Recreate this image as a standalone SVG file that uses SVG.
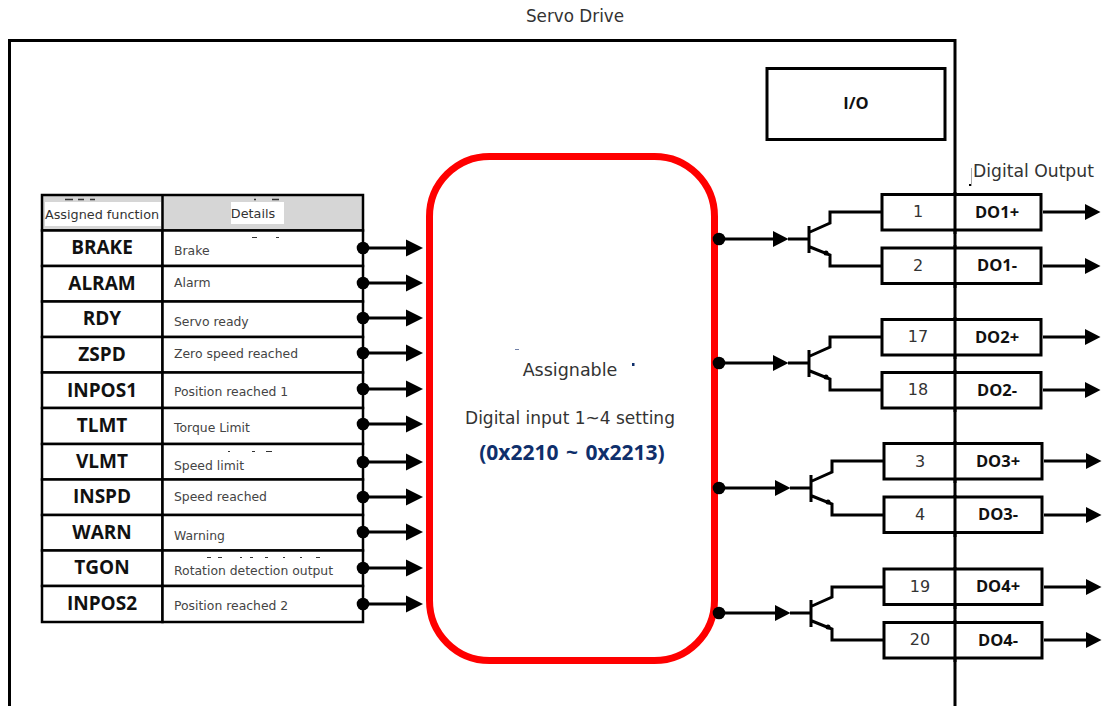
<svg xmlns="http://www.w3.org/2000/svg" width="1102" height="706" viewBox="0 0 1102 706">
<style>
text{font-family:"Open Sans","Noto Sans","Liberation Sans",sans-serif;fill:#222}
.b{font-weight:700;fill:#111;text-anchor:middle}
.f{font-size:19px}
.p{font-size:16.500px}
.d{font-family:"DejaVu Sans","Liberation Sans",sans-serif;font-size:12.400px;fill:#444}
.h{font-family:"DejaVu Sans","Liberation Sans",sans-serif;font-size:12.800px;fill:#333;text-anchor:middle}
.m{font-family:"DejaVu Sans","Liberation Sans",sans-serif;font-size:16.800px;text-anchor:middle;fill:#333}
.n{font-family:"DejaVu Sans","Liberation Sans",sans-serif;font-size:16px;text-anchor:middle;fill:#333}
.box{fill:#fff;stroke:#000;stroke-width:3}
.cell{fill:#fff;stroke:#000;stroke-width:2.500}
.w{fill:none;stroke:#000;stroke-width:3}
.t{fill:none;stroke:#000;stroke-width:3}
</style>
<defs>
<marker id="a" markerUnits="userSpaceOnUse" markerWidth="18" markerHeight="18" refX="0" refY="9" orient="auto"><path d="M0 0.500L17 9L0 17.500Z" fill="#000"/></marker>
<marker id="s" markerUnits="userSpaceOnUse" markerWidth="16" markerHeight="18" refX="0" refY="9" orient="auto"><path d="M0 1L15.500 9L0 17Z" fill="#000"/></marker>
<circle id="o" r="6.300" fill="#000"/>
</defs>
<rect width="1102" height="706" fill="#fff"/>
<g id="frame"><path d="M9.500 706V40.500H955V706" fill="none" stroke="#000" stroke-width="3"/>
<text x="575" y="22" class="m">Servo Drive</text></g>
<g id="io"><rect x="767" y="68.500" width="178" height="71" class="box"/><text x="856" y="109" class="b p">I/O</text></g>
<g id="table">
<rect x="42" y="195" width="321" height="35.500" fill="#d6d6d6" stroke="#000" stroke-width="2.500"/>
<path d="M162.500 195V230" stroke="#000" stroke-width="2.500"/>
<rect x="45" y="202" width="116" height="24" fill="#fff"/><rect x="231" y="202" width="53" height="22" fill="#fff"/>
<path d="M65 199.500h8M78 199.500h6M90 199.500h5M254 199.500h2M272 199.500h7" stroke="#333" stroke-width="1.500"/>
<text x="102" y="219" class="h">Assigned function</text>
<text x="253" y="218" class="h">Details</text>
</g>
<g id="r1"><rect x="42" y="230.500" width="120.500" height="35.500" class="cell"/><rect x="162.500" y="230.500" width="200.500" height="35.500" class="cell"/><text x="102" y="254" class="b f">BRAKE</text><text x="174" y="255" class="d">Brake</text><path d="M252 237.500h5M276 237.500h3" stroke="#333" stroke-width="1.200"/></g>
<g id="r2"><rect x="42" y="266" width="120.500" height="35.500" class="cell"/><rect x="162.500" y="266" width="200.500" height="35.500" class="cell"/><text x="102" y="290" class="b f">ALRAM</text><text x="174" y="287" class="d">Alarm</text></g>
<g id="r3"><rect x="42" y="301.500" width="120.500" height="35.500" class="cell"/><rect x="162.500" y="301.500" width="200.500" height="35.500" class="cell"/><text x="102" y="325" class="b f">RDY</text><text x="174" y="326" class="d">Servo ready</text></g>
<g id="r4"><rect x="42" y="337" width="120.500" height="35.500" class="cell"/><rect x="162.500" y="337" width="200.500" height="35.500" class="cell"/><text x="102" y="361" class="b f">ZSPD</text><text x="174" y="358" class="d">Zero speed reached</text></g>
<g id="r5"><rect x="42" y="372.500" width="120.500" height="35.500" class="cell"/><rect x="162.500" y="372.500" width="200.500" height="35.500" class="cell"/><text x="102" y="397" class="b f">INPOS1</text><text x="174" y="396" class="d">Position reached 1</text></g>
<g id="r6"><rect x="42" y="408" width="120.500" height="36" class="cell"/><rect x="162.500" y="408" width="200.500" height="36" class="cell"/><text x="102" y="432" class="b f">TLMT</text><text x="174" y="432" class="d">Torque Limit</text></g>
<g id="r7"><rect x="42" y="444" width="120.500" height="35.500" class="cell"/><rect x="162.500" y="444" width="200.500" height="35.500" class="cell"/><text x="102" y="468" class="b f">VLMT</text><text x="174" y="470" class="d">Speed limit</text><path d="M228 451.500h2M252 451.500h3M266 451.500h6" stroke="#333" stroke-width="1"/></g>
<g id="r8"><rect x="42" y="479.500" width="120.500" height="35.500" class="cell"/><rect x="162.500" y="479.500" width="200.500" height="35.500" class="cell"/><text x="102" y="503" class="b f">INSPD</text><text x="174" y="501" class="d">Speed reached</text></g>
<g id="r9"><rect x="42" y="515" width="120.500" height="35.500" class="cell"/><rect x="162.500" y="515" width="200.500" height="35.500" class="cell"/><text x="102" y="539" class="b f">WARN</text><text x="174" y="540" class="d">Warning</text></g>
<g id="r10"><rect x="42" y="550.500" width="120.500" height="35.500" class="cell"/><rect x="162.500" y="550.500" width="200.500" height="35.500" class="cell"/><text x="102" y="574" class="b f">TGON</text><text x="174" y="575" class="d">Rotation detection output</text><path d="M207 557.500h4M218 557.500h4M240 557.500h2M250 557.500h3M265 557.500h3M283 557.500h2M300 557.500h2M316 557.500h4" stroke="#333" stroke-width="1"/></g>
<g id="r11"><rect x="42" y="586" width="120.500" height="36" class="cell"/><rect x="162.500" y="586" width="200.500" height="36" class="cell"/><text x="102" y="610" class="b f">INPOS2</text><text x="174" y="610" class="d">Position reached 2</text></g>
<g id="core">
<rect x="429.500" y="156.500" width="285" height="504" rx="60" fill="#fff" stroke="#f00" stroke-width="7"/>
<text x="570" y="376" class="m" style="font-size:17.500px">Assignable</text>
<text x="570" y="424" class="m" style="font-size:17px">Digital input 1~4 setting</text>
<text x="572" y="460" style="font-size:21px;fill:#0f2f6b;font-weight:700;text-anchor:middle;word-spacing:2px">(0x2210 ~ 0x2213)</text>
<path d="M515 349.500h4" stroke="#7080a8"/><rect x="632" y="363" width="2.500" height="3" fill="#0f2f6b"/>
</g>
<g id="output-label"><text x="973" y="177" class="m" style="text-anchor:start;font-size:17.200px">Digital Output</text><path d="M971.500 168v18" stroke="#aaa"/><rect x="969" y="184" width="2" height="2" fill="#000"/></g>
<g id="do1p"><rect x="882" y="194.500" width="159" height="35.500" class="box"/><text x="918" y="217" class="n">1</text><text x="997" y="218" class="b p">DO1+</text></g>
<g id="do1m"><rect x="882" y="248" width="159" height="35.500" class="box"/><text x="918" y="271" class="n">2</text><text x="997" y="271" class="b p">DO1-</text></g>
<g id="do2p"><rect x="882" y="319.500" width="159" height="35.500" class="box"/><text x="918" y="342" class="n">17</text><text x="997" y="343" class="b p">DO2+</text></g>
<g id="do2m"><rect x="882" y="372.500" width="159" height="35.500" class="box"/><text x="918" y="395" class="n">18</text><text x="997" y="396" class="b p">DO2-</text></g>
<g id="do3p"><rect x="884" y="443.500" width="158" height="35.500" class="box"/><text x="920" y="467" class="n">3</text><text x="998" y="467" class="b p">DO3+</text></g>
<g id="do3m"><rect x="884" y="497" width="158" height="35.500" class="box"/><text x="920" y="520" class="n">4</text><text x="998" y="520" class="b p">DO3-</text></g>
<g id="do4p"><rect x="884" y="569" width="158" height="35.500" class="box"/><text x="920" y="592" class="n">19</text><text x="998" y="592" class="b p">DO4+</text></g>
<g id="do4m"><rect x="884" y="622.500" width="158" height="35.500" class="box"/><text x="920" y="645" class="n">20</text><text x="998" y="646" class="b p">DO4-</text></g>
<path d="M955 192V234M955 245V288M955 317V359M955 370V412M955 441V483M955 495V537M955 567V609M955 620V662" stroke="#000" stroke-width="3" fill="none"/>
<g id="connectors">
<g class="w">
<path d="M363 248H406" marker-end="url(#a)"/><path d="M363 283H406" marker-end="url(#a)"/><path d="M363 318H406" marker-end="url(#a)"/><path d="M363 353H406" marker-end="url(#a)"/><path d="M363 389H406" marker-end="url(#a)"/><path d="M363 424H406" marker-end="url(#a)"/><path d="M363 462H406" marker-end="url(#a)"/><path d="M363 497H406" marker-end="url(#a)"/><path d="M363 532H406" marker-end="url(#a)"/><path d="M363 568H406" marker-end="url(#a)"/><path d="M363 604H406" marker-end="url(#a)"/>
<path d="M719 239H773" marker-end="url(#s)"/><path d="M719 363H773" marker-end="url(#s)"/><path d="M719 488H775" marker-end="url(#s)"/><path d="M719 613H775" marker-end="url(#s)"/>
<path d="M1043 212H1085" marker-end="url(#s)"/><path d="M1043 266H1085" marker-end="url(#s)"/><path d="M1043 337H1085" marker-end="url(#s)"/><path d="M1043 390H1085" marker-end="url(#s)"/><path d="M1044 461H1086" marker-end="url(#s)"/><path d="M1044 515H1086" marker-end="url(#s)"/><path d="M1044 587H1086" marker-end="url(#s)"/><path d="M1044 640H1086" marker-end="url(#s)"/>
</g>
<g fill="#000">
<use href="#o" x="363" y="248"/><use href="#o" x="363" y="283"/><use href="#o" x="363" y="318"/><use href="#o" x="363" y="353"/><use href="#o" x="363" y="389"/><use href="#o" x="363" y="424"/><use href="#o" x="363" y="462"/><use href="#o" x="363" y="497"/><use href="#o" x="363" y="532"/><use href="#o" x="363" y="568"/><use href="#o" x="363" y="604"/>
<use href="#o" x="719" y="239"/><use href="#o" x="719" y="363"/><use href="#o" x="719" y="488"/><use href="#o" x="719" y="613"/>
</g>
<g id="t1" class="t"><path d="M788 239H809M809 226V253M810 232L830 223V212H882M810 247L830 255V266H882"/><circle cx="826" cy="253" r="2.500" fill="#000" stroke="none"/></g>
<g id="t2" class="t"><path d="M788 363H809M809 350V377M810 356L830 347V337H882M810 371L830 379V390H882"/><circle cx="826" cy="377" r="2.500" fill="#000" stroke="none"/></g>
<g id="t3" class="t"><path d="M790 488H811M811 475V502M812 481L832 472V461H884M812 496L832 504V515H884"/><circle cx="828" cy="502" r="2.500" fill="#000" stroke="none"/></g>
<g id="t4" class="t"><path d="M790 613H811M811 600V627M812 606L832 597V587H884M812 621L832 629V640H884"/><circle cx="828" cy="627" r="2.500" fill="#000" stroke="none"/></g>
</g>
</svg>
